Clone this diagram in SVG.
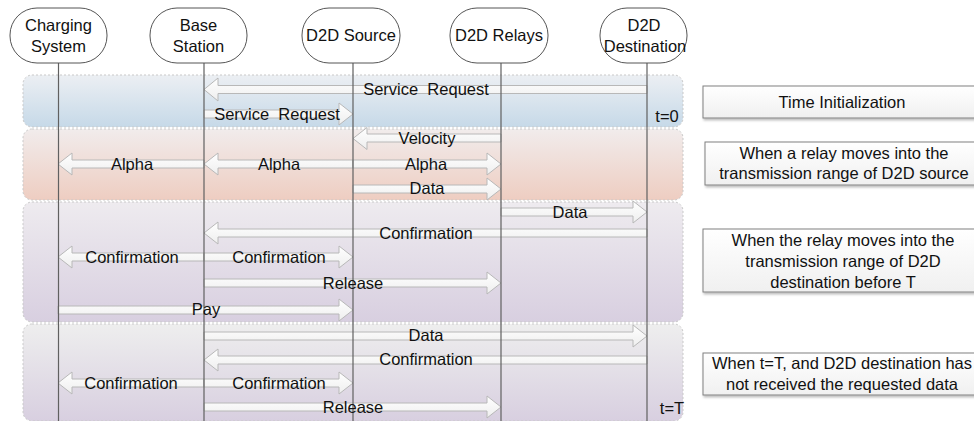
<svg xmlns="http://www.w3.org/2000/svg" width="974" height="421" viewBox="0 0 974 421">
  <defs>
    <linearGradient id="gBand1" x1="0" y1="0" x2="0" y2="1">
      <stop offset="0" stop-color="#eceff3"/>
      <stop offset="1" stop-color="#c6d9e8"/>
    </linearGradient>
    <linearGradient id="gBand2" x1="0" y1="0" x2="0" y2="1">
      <stop offset="0" stop-color="#f1ecec"/>
      <stop offset="1" stop-color="#eecdc1"/>
    </linearGradient>
    <linearGradient id="gBand3" x1="0" y1="0" x2="0" y2="1">
      <stop offset="0" stop-color="#eeebef"/>
      <stop offset="1" stop-color="#d8cfe0"/>
    </linearGradient>
    <linearGradient id="gBand4" x1="0" y1="0" x2="0" y2="1">
      <stop offset="0" stop-color="#eeeeee"/>
      <stop offset="1" stop-color="#d8cfe0"/>
    </linearGradient>
    <linearGradient id="gArrow" x1="0" y1="0" x2="0" y2="1">
      <stop offset="0" stop-color="#ffffff"/>
      <stop offset="1" stop-color="#eeeeee"/>
    </linearGradient>
    <linearGradient id="gNote" x1="0" y1="0" x2="0" y2="1">
      <stop offset="0" stop-color="#ffffff"/>
      <stop offset="1" stop-color="#f0f0f0"/>
    </linearGradient>
    <filter id="shadow" x="-5%" y="-20%" width="110%" height="150%">
      <feDropShadow dx="1" dy="2" stdDeviation="1.2" flood-color="#000" flood-opacity="0.25"/>
    </filter>
  </defs>
  <style>
    .band { stroke: #c9c9c9; stroke-width: 1; stroke-dasharray: 2 2; }
    .head { fill: #ffffff; stroke: #555555; stroke-width: 1; }
    .life { stroke: #606060; stroke-width: 1.2; fill: none; }
    .arr { fill: url(#gArrow); stroke: #b8b8b8; stroke-width: 1; }
    .note { fill: url(#gNote); stroke: #808080; stroke-width: 1; filter: url(#shadow); }
    text { font-family: "Liberation Sans", Arial, sans-serif; fill: #111111; white-space: pre; }
    .ht { font-size: 16.5px; text-anchor: middle; }
    .lbl { font-size: 16.5px; text-anchor: middle; dominant-baseline: central; }
    .nt { font-size: 16.5px; text-anchor: middle; }
  </style>

  <g id="bands">
    <rect class="band" x="23" y="75" width="660" height="52" rx="9" fill="url(#gBand1)"/>
    <rect class="band" x="23" y="129" width="660" height="71" rx="9" fill="url(#gBand2)"/>
    <rect class="band" x="23" y="202" width="660" height="120" rx="9" fill="url(#gBand3)"/>
    <rect class="band" x="23" y="324" width="660" height="97" rx="9" fill="url(#gBand4)"/>
  </g>

  <g id="connectors">
    <path class="arr" d="M647,85.5 L218,85.5 L218,78 L204,89.5 L218,101 L218,93.5 L647,93.5 Z"/>
    <path class="arr" d="M204,110 L339,110 L339,103 L353,114 L339,125 L339,118 L204,118 Z"/>
    <path class="arr" d="M501,134 L367,134 L367,127.5 L353,138.5 L367,149.5 L367,142 L501,142 Z"/>
    <path class="arr" d="M204,160 L72,160 L72,153 L58,164 L72,175 L72,168 L204,168 Z"/>
    <path class="arr" d="M353,160 L218,160 L218,153 L204,164 L218,175 L218,168 L353,168 Z"/>
    <path class="arr" d="M353,160 L487,160 L487,153 L501,164 L487,175 L487,168 L353,168 Z"/>
    <path class="arr" d="M353,185 L487,185 L487,178 L501,189 L487,200 L487,193 L353,193 Z"/>
    <path class="arr" d="M501,208 L633,208 L633,201 L647,212 L633,223 L633,216 L501,216 Z"/>
    <path class="arr" d="M647,229 L218,229 L218,222 L204,233 L218,244 L218,237 L647,237 Z"/>
    <path class="arr" d="M204,253 L72,253 L72,246 L58,257 L72,268 L72,261 L204,261 Z"/>
    <path class="arr" d="M204,253 L339,253 L339,246 L353,257 L339,268 L339,261 L204,261 Z"/>
    <path class="arr" d="M204,279 L487,279 L487,272 L501,283 L487,294 L487,287 L204,287 Z"/>
    <path class="arr" d="M58,306 L339,306 L339,299 L353,310 L339,321 L339,314 L58,314 Z"/>
    <path class="arr" d="M204,332 L633,332 L633,325 L647,336 L633,347 L633,340 L204,340 Z"/>
    <path class="arr" d="M647,356 L218,356 L218,349 L204,360 L218,371 L218,364 L647,364 Z"/>
    <path class="arr" d="M204,379 L72,379 L72,372 L58,383 L72,394 L72,387 L204,387 Z"/>
    <path class="arr" d="M204,379 L339,379 L339,372 L353,383 L339,394 L339,387 L204,387 Z"/>
    <path class="arr" d="M204,403 L487,403 L487,396 L501,407 L487,418 L487,411 L204,411 Z"/>
  </g>

  <g id="charging-system">
    <line class="life" x1="58.5" y1="63" x2="58.5" y2="421"/>
    <rect class="head" x="10" y="8" width="97" height="55" rx="27" ry="27"/>
    <text class="ht" x="58.5" y="31">Charging</text>
    <text class="ht" x="58.5" y="52">System</text>
  </g>
  <g id="base-station">
    <line class="life" x1="204" y1="63" x2="204" y2="421"/>
    <rect class="head" x="150" y="8" width="97" height="55" rx="27" ry="27"/>
    <text class="ht" x="198.5" y="31">Base</text>
    <text class="ht" x="198.5" y="52">Station</text>
  </g>
  <g id="d2d-source">
    <line class="life" x1="353" y1="63" x2="353" y2="421"/>
    <rect class="head" x="302" y="8" width="98" height="55" rx="27" ry="27"/>
    <text class="ht" x="351" y="41">D2D Source</text>
  </g>
  <g id="d2d-relays">
    <line class="life" x1="501" y1="63" x2="501" y2="421"/>
    <rect class="head" x="450" y="8" width="98" height="55" rx="27" ry="27"/>
    <text class="ht" x="499" y="41">D2D Relays</text>
  </g>
  <g id="d2d-destination">
    <line class="life" x1="647" y1="63" x2="647" y2="421"/>
    <rect class="head" x="600" y="8" width="87" height="55" rx="27" ry="27"/>
    <text class="ht" x="644" y="31">D2D</text>
    <text class="ht" x="645" y="52">Destination</text>
  </g>

  <g id="labels">
    <text class="lbl" x="426" y="89">Service  Request</text>
    <text class="lbl" x="277" y="114">Service  Request</text>
    <text class="lbl" x="667" y="116">t=0</text>
    <text class="lbl" x="427" y="138">Velocity</text>
    <text class="lbl" x="132" y="164">Alpha</text>
    <text class="lbl" x="279" y="164">Alpha</text>
    <text class="lbl" x="426" y="164">Alpha</text>
    <text class="lbl" x="427" y="188">Data</text>
    <text class="lbl" x="570" y="212">Data</text>
    <text class="lbl" x="426" y="233">Confirmation</text>
    <text class="lbl" x="132" y="257">Confirmation</text>
    <text class="lbl" x="279" y="257">Confirmation</text>
    <text class="lbl" x="353" y="283">Release</text>
    <text class="lbl" x="206" y="309">Pay</text>
    <text class="lbl" x="426" y="335">Data</text>
    <text class="lbl" x="426" y="359">Confirmation</text>
    <text class="lbl" x="131" y="383">Confirmation</text>
    <text class="lbl" x="279" y="383">Confirmation</text>
    <text class="lbl" x="353" y="407">Release</text>
    <text class="lbl" x="672" y="408">t=T</text>
  </g>

  <g id="note-time-init">
    <rect class="note" x="703" y="86" width="280" height="32"/>
    <text class="nt" x="842" y="108">Time Initialization</text>
  </g>
  <g id="note-relay-source">
    <rect class="note" x="705" y="142" width="278" height="43"/>
    <text class="nt" x="844" y="159">When a relay moves into the</text>
    <text class="nt" x="844" y="179">transmission range of D2D source</text>
  </g>
  <g id="note-relay-destination">
    <rect class="note" x="703" y="229" width="280" height="63"/>
    <text class="nt" x="843" y="246">When the relay moves into the</text>
    <text class="nt" x="843" y="267">transmission range of D2D</text>
    <text class="nt" x="843" y="288">destination before T</text>
  </g>
  <g id="note-timeout">
    <rect class="note" x="703" y="353" width="280" height="42"/>
    <text class="nt" x="842" y="369">When t=T, and D2D destination has</text>
    <text class="nt" x="842" y="390">not received the requested data</text>
  </g>
</svg>
